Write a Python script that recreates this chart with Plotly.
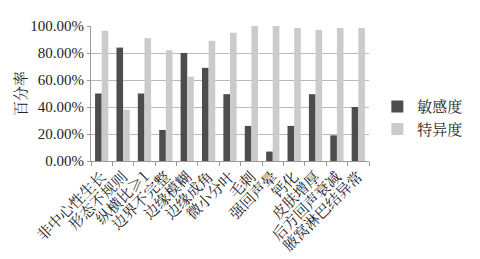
import plotly.graph_objects as go

categories = ["非中心性生长", "形态不规则", "纵横比≥1", "边界不完整", "边缘模糊", "边缘成角",
              "微小分叶", "毛刺", "强回声晕", "钙化", "皮肤增厚", "后方回声衰减", "腋窝淋巴结异常"]
sensitivity = [0.50, 0.84, 0.50, 0.23, 0.80, 0.69, 0.495, 0.26, 0.07, 0.26, 0.495, 0.19, 0.40]
specificity = [0.965, 0.38, 0.91, 0.82, 0.625, 0.89, 0.95, 1.00, 1.00, 0.985, 0.97, 0.985, 0.985]
y_ticks = [0, 0.2, 0.4, 0.6, 0.8, 1.0]

serif = "Liberation Serif"
cjk = "Noto Serif CJK SC, Noto Sans CJK SC"

fig = go.Figure()
fig.add_trace(go.Bar(x=categories, y=sensitivity, name="敏感度",
                     marker=dict(color="#4d4d4d", line=dict(width=0))))
fig.add_trace(go.Bar(x=categories, y=specificity, name="特异度",
                     marker=dict(color="#cbcbcb", line=dict(width=0))))

fig.update_layout(
    width=480, height=259,
    margin=dict(l=91, r=80, t=26, b=98),
    paper_bgcolor="white", plot_bgcolor="white",
    barmode="group", bargap=0.38, bargroupgap=0.0,
    showlegend=True,
    legend=dict(x=1.03, y=0.32, xanchor="left", yanchor="middle",
                font=dict(family=cjk, size=15, color="#222"),
                itemwidth=30, tracegroupgap=2, bgcolor="rgba(0,0,0,0)"),
    font=dict(family=serif, color="#222"),
)
fig.update_yaxes(range=[0, 1.0], tickvals=y_ticks, tickformat=".2%", automargin=False,
                 tickfont=dict(family=serif, size=15, color="#222"),
                 showgrid=True, gridcolor="#b8b8b8", gridwidth=1,
                 showline=True, linecolor="#999", ticks="outside", ticklen=3, tickcolor="#999",
                 title=dict(text="百分率", font=dict(family=cjk, size=15, color="#222"), standoff=0),
                 zeroline=False)
fig.update_xaxes(tickangle=-45, tickfont=dict(family=cjk, size=15, color="#222"), automargin=False,
                 showline=True, linecolor="#999", ticks="outside", ticklen=4, tickcolor="#999",
                 tickson="boundaries")

fig.write_html("out.html")
